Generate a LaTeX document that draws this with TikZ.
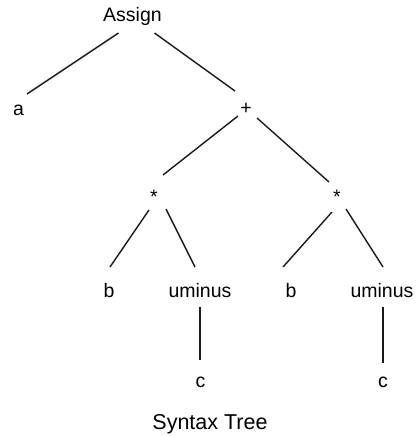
\documentclass[tikz,border=0pt]{standalone}
\usepackage{fontspec}
\setmainfont{Liberation Sans}
\begin{document}
\begin{tikzpicture}[x=1pt,y=-1pt,
  lbl/.style={font=\fontsize{19.5}{22}\selectfont, anchor=base, inner sep=0pt},
  captext/.style={font=\fontsize{21.5}{24}\selectfont, anchor=base, inner sep=0pt},
  treeline/.style={line width=1.4pt, black!90}]
\useasboundingbox (0,0) rectangle (417,436);
\node[lbl] (Assign) at (132.5,22) {Assign};
\node[lbl] (a) at (18.5,115) {a};
\node[lbl] (plus) at (246,114) {+};
\node[lbl] (s1) at (154,203) {*};
\node[lbl] (s2) at (337,203) {*};
\node[lbl] (b1) at (109,297) {b};
\node[lbl] (u1) at (200,297) {uminus};
\node[lbl] (b2) at (291,297) {b};
\node[lbl] (u2) at (382,297) {uminus};
\node[lbl] (c1) at (200.5,387) {c};
\node[lbl] (c2) at (383,387) {c};
\node[captext] (title) at (210,429) {Syntax Tree};
\draw[treeline] ([shift={(-14,11)}]Assign.base) -- ([shift={(8.5,-21)}]a.base);
\draw[treeline] ([shift={(22,11)}]Assign.base) -- ([shift={(-11,-23)}]plus.base);
\draw[treeline] ([shift={(-8,2)}]plus.base) -- ([shift={(9,-28)}]s1.base);
\draw[treeline] ([shift={(11,4)}]plus.base) -- ([shift={(-8,-21)}]s2.base);
\draw[treeline] ([shift={(-5,7)}]s1.base) -- ([shift={(1,-30)}]b1.base);
\draw[treeline] ([shift={(12,6)}]s1.base) -- ([shift={(-5,-30)}]u1.base);
\draw[treeline] ([shift={(-5,9)}]s2.base) -- ([shift={(-8,-30)}]b2.base);
\draw[treeline] ([shift={(9,6)}]s2.base) -- ([shift={(1,-30)}]u2.base);
\draw[treeline] ([shift={(0,10)}]u1.base) -- ([shift={(-0.5,-27)}]c1.base);
\draw[treeline] ([shift={(1,10)}]u2.base) -- ([shift={(0,-24)}]c2.base);
\end{tikzpicture}
\end{document}
